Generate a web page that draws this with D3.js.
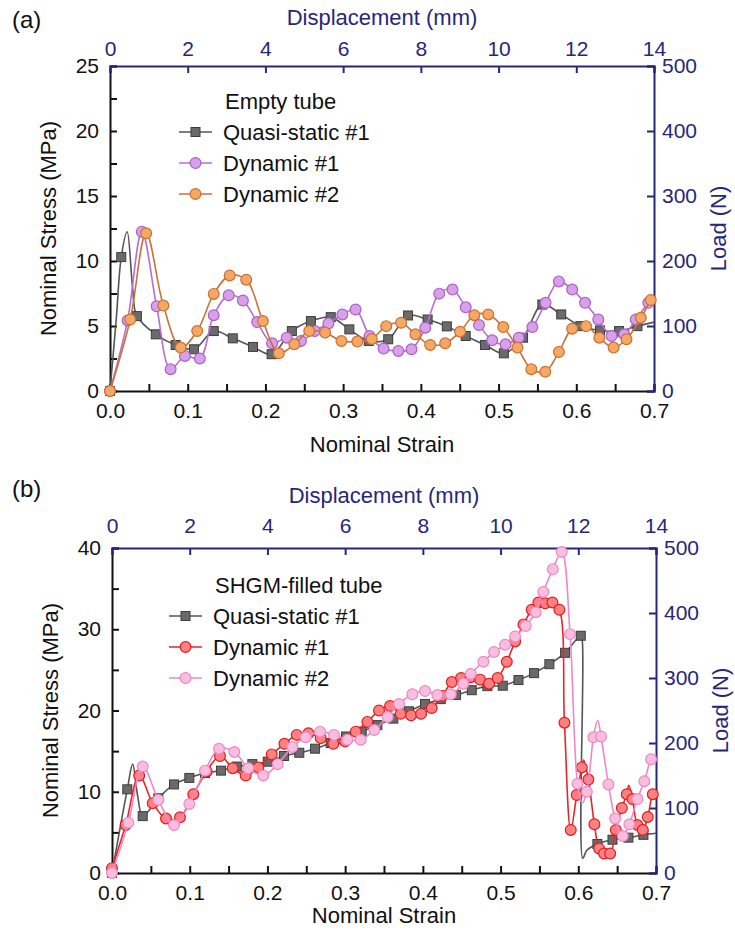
<!DOCTYPE html>
<html>
<head>
<meta charset="utf-8">
<script src="https://cdn.jsdelivr.net/npm/d3@7"></script>
<style>
  body { margin: 0; background: #fff; }
  svg { display: block; font-family: "Liberation Sans", Arial, sans-serif; }
</style>
</head>
<body>
<svg width="735" height="941"></svg>
<script>
// Points are [strain, stress]; a third value 0 means "line vertex only, no symbol"

// (a) Empty tube
var emptyQuasi = [[0,0],[0.008,5.5,0],[0.0145,10.3],[0.022,12.25,0],[0.029,8.0,0],[0.0346,5.76],[0.059,4.36],[0.0845,3.54],[0.108,3.21],[0.1335,4.61],[0.158,4.05],[0.184,3.39],[0.208,2.83],[0.234,4.61],[0.2585,5.38],[0.284,5.68],[0.308,4.74],[0.333,3.85],[0.358,3.98],[0.3835,5.81],[0.4087,5.5],[0.4334,4.97],[0.4577,4.23],[0.4825,3.54],[0.5068,2.9],[0.5315,4.1],[0.5563,6.65],[0.5806,5.89],[0.6053,4.99],[0.6305,4.66],[0.655,4.61],[0.6787,4.99],[0.7,5.3,0]];
var emptyDyn1 = [[0,0],[0.0226,5.43],[0.041,12.25],[0.060,6.52],[0.078,1.68],[0.0964,2.7],[0.1156,2.5],[0.1335,5.83],[0.1527,7.36],[0.171,6.96],[0.1894,5.3],[0.2086,3.67],[0.2274,4.1],[0.2457,3.85],[0.2636,4.61],[0.281,5.2],[0.299,5.89],[0.316,6.27],[0.334,4.23],[0.352,3.26],[0.371,3.08],[0.388,3.21],[0.4057,4.87],[0.4236,7.49],[0.4407,7.8],[0.4577,6.44],[0.4748,5.07],[0.4918,3.9],[0.509,3.59],[0.526,4.1],[0.5435,4.92],[0.5605,6.78],[0.5776,8.43],[0.5947,7.8],[0.6113,6.78],[0.6283,5.5],[0.6454,4.23],[0.6616,4.36],[0.6766,5.5],[0.6927,6.78],[0.7,7.2,0]];
var emptyDyn2 = [[0,0],[0.026,5.5],[0.0465,12.13],[0.0687,6.57],[0.0909,3.34],[0.1122,4.61],[0.1335,7.47],[0.154,8.89],[0.1753,8.56],[0.1967,5.38],[0.2172,2.9],[0.2372,3.59],[0.2564,4.61],[0.2768,4.49],[0.2978,3.85],[0.3183,3.8],[0.3368,4.0],[0.3554,4.99],[0.3746,5.25],[0.393,4.36],[0.412,3.54],[0.4313,3.67],[0.4505,4.56],[0.4688,5.83],[0.4867,5.89],[0.506,4.92],[0.5243,3.34],[0.5422,1.68],[0.5601,1.48],[0.5776,3.0],[0.5947,4.79],[0.6126,4.99],[0.6296,4.1],[0.648,3.34],[0.6646,3.98],[0.683,5.63],[0.6958,7.0]];

// (b) SHGM-filled tube
var filledQuasi = [[0,0],[0.0197,10.3],[0.0266,13.4,0],[0.033,9.5,0],[0.0395,7.0],[0.0596,9.2],[0.0798,10.9],[0.0995,11.7],[0.1197,12.3],[0.1403,12.6],[0.1605,13.1],[0.1806,13.4],[0.2004,13.7],[0.2214,14.4],[0.241,14.8],[0.2613,15.3],[0.2814,16.0],[0.3012,16.8],[0.3213,17.4],[0.3415,18.2],[0.362,19.0],[0.3822,19.9],[0.4028,20.8],[0.423,21.4],[0.4427,21.9],[0.4629,22.5],[0.483,23.0],[0.5028,23.05],[0.523,23.75],[0.5431,24.6],[0.5628,25.7],[0.583,27.1],[0.6032,29.2],[0.6052,28.5,0],[0.6058,1.8,0],[0.611,2.8,0],[0.6246,3.57],[0.644,4.1],[0.6645,4.35],[0.6838,4.7],[0.7,4.9,0]];
var filledDyn1 = [[0,0.6],[0.0176,5.9],[0.035,12.0],[0.0524,8.6],[0.0695,6.7],[0.0875,6.85],[0.1046,9.7],[0.1218,12.5],[0.139,14.4],[0.1553,12.9],[0.172,12.0],[0.1883,13.0],[0.2055,14.6],[0.2218,15.9],[0.2377,17.0],[0.2527,17.2],[0.2686,16.6],[0.2848,15.9],[0.3,16.2],[0.3136,17.4],[0.3286,18.6],[0.3436,20.0],[0.3578,20.55],[0.3715,19.6],[0.3848,19.4],[0.3977,19.6],[0.4114,20.3],[0.4251,21.8],[0.4372,23.5],[0.4492,24.0],[0.4616,24.1],[0.4736,23.8],[0.4852,23.3],[0.4963,24.0],[0.508,26.0],[0.5187,28.5],[0.5294,30.6],[0.54,32.4],[0.5487,33.3],[0.5573,33.2],[0.5667,33.3],[0.5757,32.4],[0.5822,18.5],[0.5903,5.3],[0.598,9.6],[0.6045,13.0],[0.607,13.9,0],[0.613,11.5],[0.6207,6.0],[0.6268,3.0],[0.6332,2.4],[0.641,2.4],[0.6483,5.3],[0.656,8.0],[0.6624,9.7],[0.665,10.8,0],[0.6697,9.1],[0.6761,5.9],[0.683,5.3],[0.6894,6.9],[0.6959,9.7],[0.7,10.0,0]];
var filledDyn2 = [[0,0],[0.021,6.2],[0.0395,13.1],[0.0596,9.0],[0.0798,5.9],[0.0995,8.5],[0.1197,12.6],[0.1377,15.3],[0.1574,14.9],[0.1754,12.9],[0.1947,12.0],[0.2132,13.4],[0.232,15.5],[0.2493,16.7],[0.2677,17.4],[0.2857,17.0],[0.3028,16.4],[0.32,16.4],[0.3376,17.6],[0.3548,19.2],[0.3694,20.8],[0.3865,22.0],[0.4028,22.4],[0.4187,21.9],[0.4359,22.0],[0.4521,23.3],[0.4616,24.5],[0.4779,26.0],[0.4916,27.2],[0.5058,28.1],[0.5187,29.1],[0.5324,30.4],[0.5453,32.1],[0.555,34.6],[0.5672,37.4],[0.5787,39.5],[0.5894,29.4],[0.599,11.0],[0.605,8.6,0],[0.611,10.0],[0.6195,16.7],[0.625,18.8,0],[0.6293,16.8],[0.6388,10.9],[0.6474,6.7],[0.6573,4.55],[0.6657,6.0],[0.676,9.1],[0.685,11.3],[0.6937,14.0],[0.7,14.6,0]];

var seriesNames = ['Quasi-static #1', 'Dynamic #1', 'Dynamic #2'];
var legendTitles = ['Empty tube', 'SHGM-filled tube'];
var panelLabels = ['(a)', '(b)'];
var stressMax = [25, 40];
var loadMax = 500;
var dispMax = 14;
var strainMax = 0.7;

var navy = '#27277a';
var styles = {
  quasi: { line: '#555', fill: '#6a6a6a', stroke: '#3d3d3d', shape: 'square' },
  purple: { line: '#b46fd1', fill: '#d9a0ea', stroke: '#a961c6', shape: 'circle' },
  orange: { line: '#c8723a', fill: '#f3a865', stroke: '#cd6f2f', shape: 'circle' },
  red: { line: '#e8242a', fill: '#ff8080', stroke: '#e01c22', shape: 'circle' },
  pink: { line: '#f088c4', fill: '#f9bde0', stroke: '#ee88c3', shape: 'circle' }
};

var panels = [
  { top: 66, left: 110, series: [emptyQuasi, emptyDyn1, emptyDyn2], styles: [styles.quasi, styles.purple, styles.orange],
    legend: { x: 69, y: 35 }, topPad: 10, topTitle: -41, bottomTitle: 61, label: -38 },
  { top: 548, left: 112, series: [filledQuasi, filledDyn1, filledDyn2], styles: [styles.quasi, styles.red, styles.pink],
    legend: { x: 57, y: 37 }, topPad: 15, topTitle: -45, bottomTitle: 50, label: -51 }
];

var width = 544, height = 325;
var svg = d3.select('svg');
svg.append('rect').attr('width', 735).attr('height', 941).attr('fill', '#fff');

panels.forEach(function (p, i) {
  var g = svg.append('g').attr('transform', 'translate(' + p.left + ',' + p.top + ')');

  var x = d3.scaleLinear().domain([0, strainMax]).range([0, width]);
  var xTop = d3.scaleLinear().domain([0, dispMax]).range([0, width]);
  var y = d3.scaleLinear().domain([0, stressMax[i]]).range([height, 0]);
  var yRight = d3.scaleLinear().domain([0, loadMax]).range([height, 0]);

  var major = stressMax[i] === 25 ? 5 : 10;

  // Axes (ticks point inwards)
  g.append('g').attr('class', 'axis').attr('transform', 'translate(0,' + height + ')')
    .call(d3.axisBottom(x).tickValues(d3.range(0, 0.701, 0.05)).tickSize(-7).tickPadding(12)
      .tickFormat(function (d) { return Math.round(d * 100) % 10 === 0 ? d3.format('.1f')(d) : ''; }));
  g.append('g').attr('class', 'axis')
    .call(d3.axisLeft(y).tickValues(d3.range(0, stressMax[i] + 0.01, major / 2)).tickSize(-7).tickPadding(11)
      .tickFormat(function (d) { return d % major === 0 ? d : ''; }));
  g.append('g').attr('class', 'axis navy')
    .call(d3.axisTop(xTop).tickValues(d3.range(0, 14.1, 2)).tickSize(-7).tickPadding(p.topPad));
  g.append('g').attr('class', 'axis navy').attr('transform', 'translate(' + width + ',0)')
    .call(d3.axisRight(yRight).tickValues(d3.range(0, 501, 100)).tickSize(-7).tickPadding(8));

  g.selectAll('.axis text').attr('font-size', 21).attr('font-family', '"Liberation Sans", Arial, sans-serif').attr('fill', '#111');
  g.selectAll('.axis line, .axis path').attr('stroke', '#111').attr('stroke-width', 2);
  g.selectAll('.navy text').attr('fill', navy);
  g.selectAll('.navy line, .navy path').attr('stroke', navy);

  // Axis titles
  g.append('text').attr('x', width / 2).attr('y', p.topTitle).attr('text-anchor', 'middle')
    .attr('font-size', 22).attr('fill', navy).text('Displacement (mm)');
  g.append('text').attr('x', width / 2).attr('y', height + p.bottomTitle).attr('text-anchor', 'middle')
    .attr('font-size', 22).attr('fill', '#111').text('Nominal Strain');
  g.append('text').attr('transform', 'translate(' + (-54) + ',' + (height / 2) + ') rotate(-90)')
    .attr('text-anchor', 'middle').attr('font-size', 22).attr('fill', '#111').text('Nominal Stress (MPa)');
  g.append('text').attr('transform', 'translate(' + (width + 72) + ',' + (height / 2) + ') rotate(-90)')
    .attr('text-anchor', 'middle').attr('font-size', 22).attr('fill', navy).text('Load (N)');
  g.append('text').attr('x', 12 - p.left).attr('y', p.label).attr('font-size', 24).attr('fill', '#111').text(panelLabels[i]);

  // Curves
  var line = d3.line()
    .x(function (d) { return x(d[0]); })
    .y(function (d) { return y(d[1]); })
    .curve(d3.curveCatmullRom.alpha(0.5));

  p.series.forEach(function (data, k) {
    var st = p.styles[k];
    g.append('path').datum(data)
      .attr('fill', 'none').attr('stroke', st.line).attr('stroke-width', 1.6)
      .attr('d', line);
    drawMarkers(g, data.filter(function (d) { return d[2] !== 0; }), st, x, y);
  });

  // Legend
  var lg = g.append('g').attr('transform', 'translate(' + p.legend.x + ',' + p.legend.y + ')');
  lg.append('text').attr('x', 46).attr('y', 0).attr('dy', '0.35em').attr('font-size', 22).attr('fill', '#111').text(legendTitles[i]);
  seriesNames.forEach(function (name, k) {
    var st = p.styles[k];
    var ry = 31 * (k + 1);
    lg.append('line').attr('x1', 0).attr('x2', 33).attr('y1', ry).attr('y2', ry)
      .attr('stroke', st.line).attr('stroke-width', 1.6);
    drawMarkers(lg, [[0, 0]], st, function () { return 16.5; }, function () { return ry; });
    lg.append('text').attr('x', 44).attr('y', ry).attr('dy', '0.35em').attr('font-size', 22).attr('fill', '#111').text(name);
  });
});

// Draw squares or circles for a series
function drawMarkers(g, data, st, x, y) {
  if (st.shape === 'square') {
    g.selectAll(null).data(data).enter().append('rect')
      .attr('x', function (d) { return x(d[0]) - 4.5; })
      .attr('y', function (d) { return y(d[1]) - 4.5; })
      .attr('width', 9).attr('height', 9)
      .attr('fill', st.fill).attr('stroke', st.stroke).attr('stroke-width', 1);
  } else {
    g.selectAll(null).data(data).enter().append('circle')
      .attr('cx', function (d) { return x(d[0]); })
      .attr('cy', function (d) { return y(d[1]); })
      .attr('r', 5.4)
      .attr('fill', st.fill).attr('stroke', st.stroke).attr('stroke-width', 1.2);
  }
}
</script>
</body>
</html>
